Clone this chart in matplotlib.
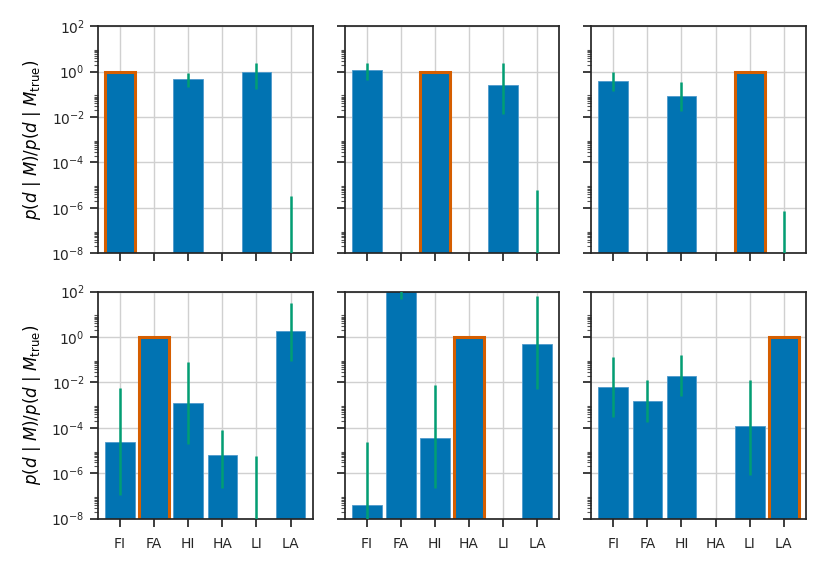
import numpy as np
import matplotlib
matplotlib.use('Agg')
import matplotlib.pyplot as plt
from matplotlib.ticker import FixedLocator, NullFormatter

models = ['FI', 'FA', 'HI', 'HA', 'LI', 'LA']

# true model per panel (row by row)
true_models = ['FI', 'HI', 'LI', 'FA', 'HA', 'LA']

# Bayes factor estimates p(d|M)/p(d|M_true); 0 means below the plotted range
ratio = [
    [1.0, 0, 0.46, 0, 0.92, 0],
    [1.15, 0, 1.0, 0, 0.25, 0],
    [0.38, 0, 0.083, 0, 1.0, 0],
    [2.3e-5, 1.0, 1.25e-3, 6.3e-6, 0, 1.9],
    [4e-8, 3e2, 3.5e-5, 1.0, 0, 0.5],
    [6.1e-3, 1.6e-3, 0.019, 0, 1.2e-4, 1.0],
]

# lower / upper ends of the uncertainty range (nan = no range shown)
err_lo = [
    [np.nan, np.nan, 0.22, np.nan, 0.17, 1e-10],
    [0.41, np.nan, np.nan, np.nan, 0.014, 1e-10],
    [0.14, np.nan, 0.019, np.nan, np.nan, 1e-10],
    [1.1e-7, np.nan, 1.9e-5, 2.2e-7, 1e-10, 0.091],
    [1e-10, 49, 2.3e-7, np.nan, np.nan, 5e-3],
    [3e-4, 1.9e-4, 2.5e-3, np.nan, 8.3e-7, np.nan],
]
err_hi = [
    [np.nan, np.nan, 0.91, np.nan, 2.3, 3.4e-6],
    [2.4, np.nan, np.nan, np.nan, 2.4, 6e-6],
    [0.93, np.nan, 0.35, np.nan, np.nan, 7e-7],
    [5.5e-3, np.nan, 0.083, 7.8e-5, 5.6e-6, 31],
    [2.5e-5, 2e3, 7.8e-3, np.nan, np.nan, 65],
    [0.13, 0.013, 0.17, np.nan, 0.013, np.nan],
]

blue = '#0173b2'
orange = '#d55e00'
green = '#029e73'
dark = '#262626'

plt.rcParams.update({
    'font.size': 10,
    'axes.edgecolor': dark,
    'axes.linewidth': 1.25,
    'xtick.color': dark,
    'ytick.color': dark,
    'xtick.labelcolor': dark,
    'ytick.labelcolor': dark,
    'xtick.major.size': 6,
    'ytick.major.size': 6,
    'ytick.minor.size': 3,
    'xtick.major.width': 1.25,
    'ytick.major.width': 1.25,
    'ytick.minor.width': 0.8,
    'grid.color': '#d0d0d0',
    'grid.linewidth': 1.0,
})

fig, axes = plt.subplots(2, 3, figsize=(8.3, 5.71), dpi=100, sharex=True, sharey=True)
fig.subplots_adjust(left=0.118, right=0.971, top=0.954, bottom=0.0916, wspace=0.148, hspace=0.169)

x = np.arange(len(models))
major = 10.0 ** np.arange(-8, 3, 2)
minor = [s * 10.0 ** e for e in range(-8, 2, 2) for s in range(2, 10)]

for i, ax in enumerate(axes.flat):
    ax.set_axisbelow(True)
    ax.grid(True)
    edge = [orange if m == true_models[i] else '#4f9acb' for m in models]
    lw = [2.2 if m == true_models[i] else 0.6 for m in models]
    ax.bar(x, ratio[i], width=0.87, color=blue, edgecolor=edge, linewidth=lw, zorder=2)
    ax.vlines(x, err_lo[i], err_hi[i], color=green, linewidth=1.8, zorder=3)
    ax.set_yscale('log')
    ax.set_ylim(1e-8, 1e2)
    ax.set_xlim(-0.65, 5.65)
    ax.yaxis.set_major_locator(FixedLocator(major))
    ax.yaxis.set_minor_locator(FixedLocator(minor))
    ax.yaxis.set_minor_formatter(NullFormatter())
    ax.tick_params(axis='y', which='minor', color='#555555')
    ax.set_xticks(x)
    ax.set_xticklabels(models)
    ax.tick_params(axis='x', pad=7)

for ax in axes[:, 0]:
    ax.set_ylabel(r'$p(d\ |\ M)/p(d\ |\ M_{\mathrm{true}})$', fontsize=12, labelpad=6)

plt.savefig('out.png')
